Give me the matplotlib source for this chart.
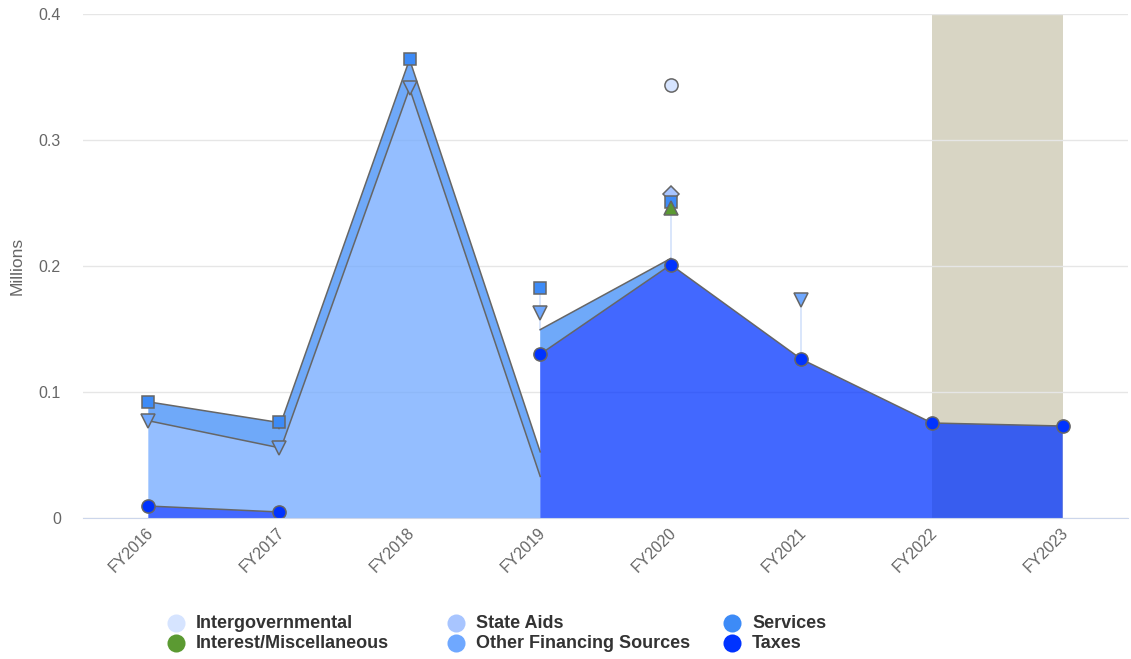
import numpy as np
import matplotlib.pyplot as plt
import matplotlib.transforms as mtransforms
from matplotlib.lines import Line2D

plt.rcParams['font.family'] = ['Liberation Sans', 'DejaVu Sans']

years = ["FY2016", "FY2017", "FY2018", "FY2019", "FY2020", "FY2021", "FY2022", "FY2023"]
nan = np.nan

# values in millions, stacked bottom -> top
taxes = [0.0095, 0.0048, nan, 0.130, 0.201, 0.126, 0.0754, 0.073]
other_financing = [0.0677, 0.051, 0.341, 0.033, nan, 0.047, nan, nan]
interest_misc = [nan, nan, nan, nan, 0.045, nan, nan, nan]
services = [0.015, 0.020, 0.023, 0.0195, 0.005, nan, nan, nan]
state_aids = [nan, nan, nan, nan, 0.006, nan, nan, nan]
intergovernmental = [nan, nan, nan, nan, 0.087, nan, nan, nan]

series = [
    ("Taxes", taxes, "#0033ff", "o"),
    ("Other Financing Sources", other_financing, "#6fa8ff", "v"),
    ("Interest/Miscellaneous", interest_misc, "#5b9a32", "^"),
    ("Services", services, "#3d8bf7", "s"),
    ("State Aids", state_aids, "#a8c5ff", "D"),
    ("Intergovernmental", intergovernmental, "#d6e4ff", "o"),
]
legend_order = ["Intergovernmental", "State Aids", "Services",
                "Interest/Miscellaneous", "Other Financing Sources", "Taxes"]

vals = np.array([s[1] for s in series], dtype=float)
n = len(years)
x = np.arange(n)
has = ~np.isnan(vals)
stacked = np.cumsum(np.nan_to_num(vals), axis=0)

fig = plt.figure(figsize=(11.31, 6.59), dpi=100)
ax = fig.add_axes([83 / 1131, 141 / 659, 1045 / 1131, 504 / 659])

ax.axvspan(6, 7, color="#d8d5c4", zorder=0, lw=0)

area_top = np.zeros(n)
for k, (name, v, color, mk) in enumerate(series):
    # collect runs of consecutive edges so each run is one polygon (no seams)
    runs = []
    cur = []
    for i in range(n - 1):
        if has[k, i] and has[k, i + 1]:
            both = has[:k, i] & has[:k, i + 1]
            b0 = np.nansum(vals[:k, i][both])
            b1 = np.nansum(vals[:k, i + 1][both])
            cur.append((i, b0, b1, b0 + vals[k, i], b1 + vals[k, i + 1]))
        elif cur:
            runs.append(cur)
            cur = []
    if cur:
        runs.append(cur)
    for run in runs:
        tx, ty, bx, by = [], [], [], []
        for (i, b0, b1, t0, t1) in run:
            tx += [i, i + 1]
            ty += [t0, t1]
            bx += [i, i + 1]
            by += [b0, b1]
            ax.plot([i, i + 1], [t0, t1], color="#666666", lw=1.1, zorder=3)
            area_top[i] = max(area_top[i], t0)
            area_top[i + 1] = max(area_top[i + 1], t1)
        ax.fill(tx + bx[::-1], ty + by[::-1], color=color, alpha=0.74, lw=0, zorder=2)

# faint connectors from the area top to the stacked points above it
for i in range(n):
    top = stacked[-2, i]
    if top > area_top[i] + 1e-4:
        ax.plot([i, i], [area_top[i], top], color="#d3e2fb", lw=1.2, zorder=1)

# markers: top series first so lower series sit over them
for k in range(len(series) - 1, -1, -1):
    name, v, color, mk = series[k]
    sel = has[k]
    ms = {"s": 8.5, "D": 8}.get(mk, 9.5)
    ax.plot(x[sel], stacked[k, sel], ls="none", marker=mk, ms=ms,
            mfc=color, mec="#666666", mew=1.1, zorder=5)

ax.set_xlim(-0.5, 7.5)
ax.set_ylim(0, 0.4)
ax.set_yticks([0, 0.1, 0.2, 0.3, 0.4])
ax.set_yticklabels(["0", "0.1", "0.2", "0.3", "0.4"])
ax.set_xticks(x)
ax.set_xticklabels(years, rotation=45, ha="right", va="center", rotation_mode="anchor")
ax.tick_params(axis="y", length=0, pad=16, labelsize=11.5, labelcolor="#666666")
ax.tick_params(axis="x", length=0, pad=9, labelsize=11.5, labelcolor="#666666")
shift = mtransforms.ScaledTranslation(3 / 100, 0, fig.dpi_scale_trans)
for lbl in ax.get_xticklabels():
    lbl.set_transform(lbl.get_transform() + shift)
ax.grid(axis="y", color="#e6e6e6", lw=1, zorder=0)
ax.set_axisbelow(True)
for sp in ["top", "right", "left"]:
    ax.spines[sp].set_visible(False)
ax.spines["bottom"].set_color("#ccd6eb")
ax.spines["bottom"].set_zorder(6)
fig.text(17 / 1131, 1 - 266 / 659, "Millions", rotation=90, ha="center", va="center",
         fontsize=12.5, color="#666666")

# legend laid out like the original (3 columns, 2 rows)
colors = {s[0]: s[2] for s in series}
leg_x = [176, 456, 732]
leg_y = [623, 643]
for j, name in enumerate(legend_order):
    cx = leg_x[j % 3]
    cy = leg_y[j // 3]
    fig.add_artist(Line2D([cx / 1131], [1 - cy / 659], marker="o", ms=13, ls="none",
                          mfc=colors[name], mec="none", transform=fig.transFigure))
    fig.text((cx + 20) / 1131, 1 - cy / 659, name, ha="left", va="center",
             fontsize=13, fontweight="bold", color="#333333")

fig.savefig("out.png", dpi=100)
